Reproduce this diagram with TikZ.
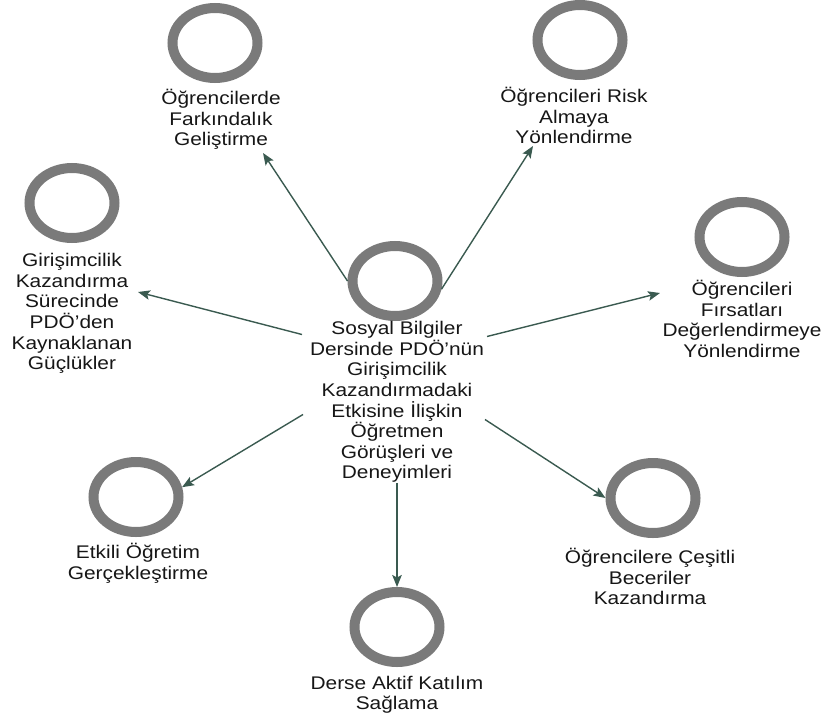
\documentclass[tikz,border=0pt]{standalone}
\usepackage{fontspec}
\setmainfont[FakeStretch=1.14]{Liberation Sans}
\usetikzlibrary{shapes.geometric,arrows.meta,calc}
\definecolor{ringgray}{HTML}{7A7A7A}
\definecolor{linkgreen}{HTML}{3A5A50}
\definecolor{inkcol}{HTML}{161616}
% fixed height for the first line of every label
\newcommand\firstline{\rule{0pt}{17pt}}
\begin{document}
\begin{tikzpicture}[x=1pt,y=-1pt,
  ring/.style={ellipse, draw=ringgray, line width=10pt, minimum width=85pt,
    minimum height=70pt, inner sep=0pt},
  lbl/.style={anchor=north, align=center, inner sep=0pt, text=inkcol,
    font=\fontsize{18.3pt}{20.6pt}\selectfont},
  link/.style={draw=linkgreen, line width=1.4pt,
    -{Stealth[length=12pt,width=9.5pt,inset=2.5pt]}}]
\useasboundingbox (0,0) rectangle (830,715);

% rings
\node[ring] (c_c)  at (395,281) {};
\node[ring] (c_tl) at (215,43)  {};
\node[ring] (c_tr) at (580,40)  {};
\node[ring] (c_l)  at (72,203)  {};
\node[ring] (c_r)  at (742,237) {};
\node[ring] (c_bl) at (136,497) {};
\node[ring] (c_b)  at (397,627) {};
\node[ring] (c_br) at (653,498) {};

% labels
\node[lbl] (t_c)  at (397,317.5) {\firstline Sosyal Bilgiler\\Dersinde PDÖ'nün\\Girişimcilik\\Kazandırmadaki\\Etkisine İlişkin\\Öğretmen\\Görüşleri ve\\Deneyimleri};
\node[lbl] (t_tl) at (221,87.5)  {\firstline Öğrencilerde\\Farkındalık\\Geliştirme};
\node[lbl] (t_tr) at (574,85.5)  {\firstline Öğrencileri Risk\\Almaya\\Yönlendirme};
\node[lbl] (t_l)  at (72,249.5)  {\firstline Girişimcilik\\Kazandırma\\Sürecinde\\PDÖ'den\\Kaynaklanan\\Güçlükler};
\node[lbl] (t_r)  at (742,278.5) {\firstline Öğrencileri\\Fırsatları\\Değerlendirmeye\\Yönlendirme};
\node[lbl] (t_bl) at (138,541.5) {\firstline Etkili Öğretim\\Gerçekleştirme};
\node[lbl] (t_b)  at (397,672)   {\firstline Derse Aktif Katılım\\Sağlama};
\node[lbl] (t_br) at (650,546.5) {\firstline Öğrencilere Çeşitli\\Beceriler\\Kazandırma};

% arrow tips beside the upper and side labels
\coordinate (tip_tl) at (263,153);
\coordinate (tip_tr) at (533,146);
\coordinate (tip_l)  at (138,292);
\coordinate (tip_r)  at (660,293);

% connectors
\draw[link] (c_c.west) -- (tip_tl);
\draw[link] (c_c.-10) -- (tip_tr);
\draw[link] ($(t_c.north)+(-95,17)$) -- (tip_l);
\draw[link] ($(t_c.north)+(90,19)$) -- (tip_r);
\draw[link] ($(t_c.north)+(-94,97)$) -- (c_bl.12);
\draw[link] ($(t_c.north)+(88,102)$) -- (c_br.west);
\draw[link] (t_c.south) -- (t_c.south |- c_b.north);
\end{tikzpicture}
\end{document}
